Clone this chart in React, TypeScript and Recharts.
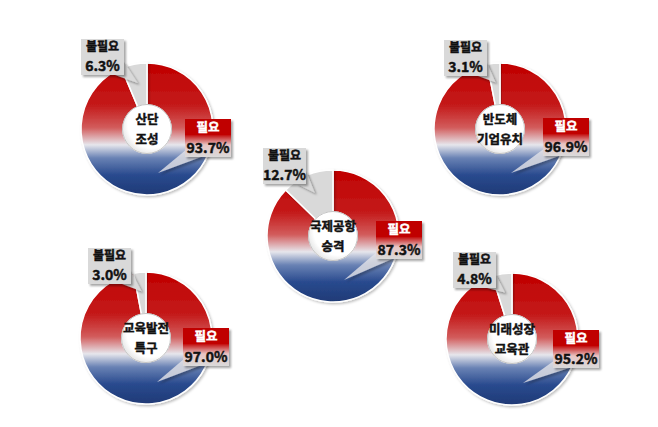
import React from "react";
import { PieChart, Pie, Cell } from "recharts";

// 각 항목 (도넛 가운데 제목, 두 줄)
const categories = [
  ["산단", "조성"],
  ["국제공항", "승격"],
  ["반도체", "기업유치"],
  ["교육발전", "특구"],
  ["미래성장", "교육관"],
];
const needValues = [93.7, 87.3, 96.9, 97.0, 95.2];
const noNeedValues = [6.3, 12.7, 3.1, 3.0, 4.8];
const answerLabels = ["필요", "불필요"];

// donut centres and label-box offsets (px, relative to centre)
const layout = [
  { cx: 147, cy: 129, no: [-66, -90], yes: [38, -10] },
  { cx: 333, cy: 236, no: [-70, -88], yes: [43, -15] },
  { cx: 500, cy: 129, no: [-56, -89], yes: [43, -11] },
  { cx: 146, cy: 338, no: [-58, -90], yes: [37, -10] },
  { cx: 512, cy: 339, no: [-59, -87], yes: [41, -9] },
];

const FONT = '"Noto Sans CJK KR", "Noto Sans", sans-serif';
const RADIAN = Math.PI / 180;

// faux-bold text (stroke under the fill)
function BoldText({ x, y, size, color, children }: any) {
  return (
    <text
      x={x}
      y={y}
      textAnchor="middle"
      fontFamily={FONT}
      fontWeight={700}
      fontSize={size}
      fill={color}
      stroke={color}
      strokeWidth={0.45}
      paintOrder="stroke"
    >
      {children}
    </text>
  );
}

function Defs() {
  return (
    <svg width={0} height={0} style={{ position: "absolute" }}>
      <defs>
        <linearGradient id="ring" x1="0" y1="0" x2="0" y2="1">
          <stop offset="0%" stopColor="#c00000" />
          <stop offset="32%" stopColor="#c41a1a" />
          <stop offset="49%" stopColor="#d25c5c" />
          <stop offset="62%" stopColor="#e6e6ec" />
          <stop offset="72%" stopColor="#6982b4" />
          <stop offset="85%" stopColor="#294a8e" />
          <stop offset="100%" stopColor="#1f3a76" />
        </linearGradient>
        <linearGradient id="yesBox" x1="0" y1="0" x2="0" y2="1">
          <stop offset="0%" stopColor="#c00000" />
          <stop offset="40%" stopColor="#c00000" />
          <stop offset="68%" stopColor="#e8c4c4" />
          <stop offset="100%" stopColor="#dadada" />
        </linearGradient>
        <radialGradient id="hole" cx="0.6" cy="0.4" r="0.7">
          <stop offset="70%" stopColor="#ffffff" />
          <stop offset="100%" stopColor="#dcdcdc" />
        </radialGradient>
        <filter id="shadow" x="-30%" y="-30%" width="160%" height="160%">
          <feDropShadow dx="2" dy="2" stdDeviation="1.2" floodColor="#000" floodOpacity="0.35" />
        </filter>
        <filter id="ringShadow" x="-10%" y="-10%" width="125%" height="125%">
          <feDropShadow dx="1.5" dy="1.5" stdDeviation="1.2" floodColor="#000" floodOpacity="0.25" />
        </filter>
      </defs>
    </svg>
  );
}

function makeLabel(i: number) {
  return (p: any) => {
    const cx = Number(p.cx);
    const cy = Number(p.cy);
    const pos = layout[i];
    if (p.index === 0) {
      const x = cx + pos.yes[0];
      const y = cy + pos.yes[1];
      const w = 46;
      const h = 38;
      return (
        <g>
          <circle cx={cx} cy={cy} r={24.5} fill="url(#hole)" stroke="#c4c4c4" strokeWidth={1} />
          <BoldText x={cx} y={cy - 5} size={12.5} color="#111">
            {categories[i][0]}
          </BoldText>
          <BoldText x={cx} y={cy + 15} size={12.5} color="#111">
            {categories[i][1]}
          </BoldText>
          <polygon
            points={`${x + 2},${y + h - 8} ${x + 16},${y + h} ${cx + 11},${cy + 44}`}
            fill="#e4e4e8"
            fillOpacity={0.8}
            filter="url(#shadow)"
          />
          <rect x={x} y={y} width={w} height={h} fill="url(#yesBox)" filter="url(#shadow)" />
          <BoldText x={x + w / 2} y={y + 13} size={12.5} color="#fff">
            {p.name}
          </BoldText>
          <BoldText x={x + w / 2} y={y + 33.5} size={14} color="#111">
            {Number(p.value).toFixed(1)}%
          </BoldText>
        </g>
      );
    }
    const x = cx + pos.no[0];
    const y = cy + pos.no[1];
    const w = 43;
    const h = 36;
    const tipX = cx + 47 * Math.cos(-p.midAngle * RADIAN);
    const tipY = cy + 47 * Math.sin(-p.midAngle * RADIAN);
    return (
      <g>
        <polygon
          points={`${x + w - 9},${y + h} ${x + w},${y + h - 13} ${tipX},${tipY}`}
          fill="#d9d9d9"
          filter="url(#shadow)"
        />
        <rect x={x} y={y} width={w} height={h} fill="#d9d9d9" filter="url(#shadow)" />
        <BoldText x={x + w / 2} y={y + 12} size={12} color="#111">
          {p.name}
        </BoldText>
        <BoldText x={x + w / 2} y={y + 32} size={14} color="#111">
          {Number(p.value).toFixed(1)}%
        </BoldText>
      </g>
    );
  };
}

export default function App() {
  const series = categories.map((_, i) => [
    { name: answerLabels[0], value: needValues[i] },
    { name: answerLabels[1], value: noNeedValues[i] },
  ]);

  return (
    <div style={{ position: "absolute", left: 0, top: 0, width: 658, height: 427, background: "#fff" }}>
      <Defs />
      <PieChart width={658} height={427} margin={{ top: 0, right: 0, bottom: 0, left: 0 }}>
        {series.map((data, i) => (
          <Pie
            key={i}
            data={data}
            dataKey="value"
            nameKey="name"
            cx={layout[i].cx}
            cy={layout[i].cy}
            innerRadius={24}
            outerRadius={66}
            startAngle={90}
            endAngle={-270}
            stroke="#ffffff"
            strokeWidth={1.5}
            labelLine={false}
            label={makeLabel(i)}
            isAnimationActive={false}
          >
            <Cell fill="url(#ring)" filter="url(#ringShadow)" />
            <Cell fill="#d9d9d9" filter="url(#ringShadow)" />
          </Pie>
        ))}
      </PieChart>
    </div>
  );
}
